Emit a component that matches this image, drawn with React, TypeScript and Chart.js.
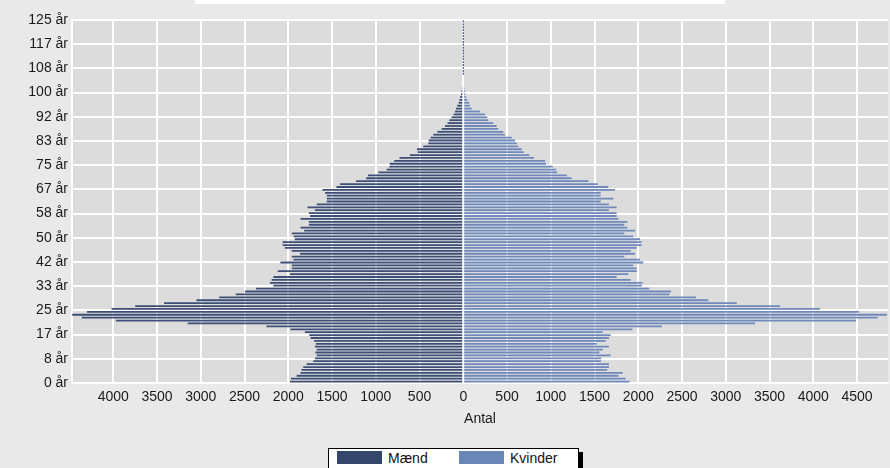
import React, { useEffect, useRef } from "react";
import { Chart, registerables } from "chart.js";

Chart.register(...registerables);

// Ages 0..124 (one bar per year of age)
const AGES: number[] = Array.from({ length: 125 }, (_, i) => i);

const MEN: number[] = [
  1980, 1970, 1905, 1860, 1850, 1830, 1790, 1715, 1695, 1675,
  1690, 1675, 1695, 1685, 1705, 1745, 1760, 1810, 1975, 2250,
  3150, 3970, 4360, 4470, 4300, 4020, 3750, 3420, 3050, 2790,
  2600, 2495, 2370, 2170, 2210, 2190, 2170, 1980, 2120, 1960,
  1960, 2090, 1940, 1960, 1865, 1960, 2040, 2065, 2065, 1925,
  1940, 1960, 1820, 1860, 1765, 1765, 1860, 1750, 1765, 1695,
  1780, 1675, 1560, 1560, 1560, 1580, 1610, 1450, 1410, 1225,
  1110, 1090, 970, 875, 845, 840, 790, 730, 610, 520,
  530, 457, 400, 395, 373, 343, 297, 247, 209, 180,
  160, 135, 110, 95, 83, 69, 53, 44, 36, 26,
  20, 15, 10, 6, 3, 2, 0, 0, 0, 0,
  0, 0, 0, 0, 0, 0, 0, 0, 0, 0,
  0, 0, 0, 0, 0,
];

const WOMEN: number[] = [
  1900, 1856, 1772, 1822, 1646, 1665, 1665, 1574, 1574, 1685,
  1555, 1593, 1665, 1525, 1628, 1665, 1685, 1593, 1932, 2268,
  3334, 4488, 4737, 4840, 4523, 4077, 3620, 3125, 2800, 2660,
  2355, 2374, 2126, 2040, 2050, 1913, 1753, 1886, 1982, 1982,
  1943, 2057, 2020, 1840, 1963, 1913, 1982, 2039, 2039, 2020,
  1943, 1840, 1963, 1875, 1840, 1875, 1772, 1753, 1753, 1665,
  1753, 1665, 1570, 1715, 1570, 1570, 1734, 1657, 1536, 1430,
  1239, 1182, 1075, 1060, 1022, 945, 934, 808, 755, 690,
  667, 629, 610, 591, 553, 476, 457, 400, 381, 343,
  286, 274, 248, 191, 96, 77, 69, 46, 31, 22,
  19, 15, 12, 8, 5, 3, 0, 0, 0, 0,
  0, 0, 0, 0, 0, 0, 0, 0, 0, 0,
  0, 0, 0, 0, 0,
];

const SERIES_LABELS = ["Mænd", "Kvinder"];
const X_TICKS: number[] = [
  -4000, -3500, -3000, -2500, -2000, -1500, -1000, -500, 0,
  500, 1000, 1500, 2000, 2500, 3000, 3500, 4000, 4500,
];
const X_MIN = -4472;
const X_MAX = 4854;
const Y_TICK_LABELS: string[] = [
  "0 år", "8 år", "17 år", "25 år", "33 år", "42 år", "50 år", "58 år",
  "67 år", "75 år", "83 år", "92 år", "100 år", "108 år", "117 år", "125 år",
];
const Y_MAX = 125;
const X_TITLE = "Antal";

const MEN_COLOR = "#34466c";
const WOMEN_COLOR = "#6a86b7";
const MEN_BAR = "#3d4f76";
const WOMEN_BAR = "#7089bb";
const PAGE_BG = "#e9e9e9";
const PLOT_BG = "#dcdcdc";
const FONT = "'Liberation Sans', Arial, sans-serif";

const plotBg = {
  id: "plotBg",
  beforeDraw(chart: any) {
    const { ctx, chartArea } = chart;
    if (!chartArea) return;
    ctx.save();
    ctx.fillStyle = PLOT_BG;
    ctx.fillRect(chartArea.left, chartArea.top, chartArea.right - chartArea.left, chartArea.bottom - chartArea.top);
    ctx.restore();
  },
};

function yTickValue(i: number) {
  return (i * Y_MAX) / (Y_TICK_LABELS.length - 1);
}

export default function App() {
  const ref = useRef<HTMLCanvasElement | null>(null);

  useEffect(() => {
    if (!ref.current) return;
    const tickFont = { family: FONT, size: 14 };
    const chart = new Chart(ref.current, {
      type: "bar",
      data: {
        datasets: [
          {
            label: SERIES_LABELS[0],
            data: AGES.map((a, i) => ({ x: -MEN[i], y: a + 0.5 })),
            backgroundColor: MEN_BAR,
            borderWidth: 0,
            minBarLength: 1,
            grouped: false,
          } as any,
          {
            label: SERIES_LABELS[1],
            data: AGES.map((a, i) => ({ x: WOMEN[i], y: a + 0.5 })),
            backgroundColor: WOMEN_BAR,
            borderWidth: 0,
            minBarLength: 1,
            grouped: false,
          } as any,
        ],
      },
      options: {
        indexAxis: "y",
        animation: false,
        responsive: false,
        maintainAspectRatio: false,
        categoryPercentage: 1,
        barPercentage: 0.62,
        layout: { padding: { left: 0, right: 2, top: 20, bottom: 7 } },
        plugins: {
          legend: { display: false },
          tooltip: { enabled: false },
          title: { display: false },
        },
        scales: {
          x: {
            type: "linear",
            min: X_MIN,
            max: X_MAX,
            offset: false,
            afterBuildTicks: (s: any) => {
              s.ticks = X_TICKS.map((v) => ({ value: v }));
            },
            afterFit: (s: any) => {
              s.height = 50;
            },
            ticks: {
              autoSkip: false,
              maxRotation: 0,
              padding: 6,
              color: "#1a1a1a",
              font: tickFont,
              callback: (v: any) => String(Math.abs(Number(v))),
            },
            grid: { color: "#ffffff", lineWidth: 2, drawTicks: false, offset: false },
            border: { display: true, color: "#ffffff", width: 2 },
            title: {
              display: true,
              text: X_TITLE,
              color: "#1a1a1a",
              font: tickFont,
              padding: { top: 2, bottom: 5 },
            },
          },
          xg: {
            type: "linear",
            axis: "x",
            position: "bottom",
            min: X_MIN,
            max: X_MAX,
            offset: false,
            z: 1,
            afterBuildTicks: (s: any) => {
              s.ticks = X_TICKS.map((v) => ({ value: v }));
            },
            afterFit: (s: any) => {
              s.height = 0;
            },
            ticks: { display: false },
            grid: { color: "rgba(255,255,255,0.3)", lineWidth: 2, drawTicks: false, offset: false },
            border: { display: false },
          },
          y: {
            type: "linear",
            min: 0,
            max: Y_MAX,
            offset: false,
            afterBuildTicks: (s: any) => {
              s.ticks = Y_TICK_LABELS.map((_, i) => ({ value: yTickValue(i) }));
            },
            afterFit: (s: any) => {
              s.width = 72;
            },
            ticks: {
              autoSkip: false,
              padding: 4,
              color: "#1a1a1a",
              font: tickFont,
              callback: (_v: any, i: number) => Y_TICK_LABELS[i],
            },
            grid: { color: "#ffffff", lineWidth: 2, drawTicks: false, offset: false },
            border: { display: true, color: "#ffffff", width: 2 },
          },
        } as any,
      },
      plugins: [plotBg],
    });
    return () => chart.destroy();
  }, []);

  const swatch = (left: number, color: string) => (
    <span
      style={{
        position: "absolute",
        left,
        top: 2,
        width: 45,
        height: 13,
        background: color,
      }}
    />
  );
  const label = (left: number, text: string) => (
    <span
      style={{
        position: "absolute",
        left,
        top: 0,
        fontFamily: FONT,
        fontSize: 14,
        lineHeight: "18px",
        color: "#111",
      }}
    >
      {text}
    </span>
  );

  return (
    <div
      style={{
        position: "fixed",
        left: 0,
        top: 0,
        width: 890,
        height: 468,
        overflow: "hidden",
        background: PAGE_BG,
      }}
    >
      <div style={{ position: "absolute", left: 195, top: 0, width: 530, height: 4, background: "#ffffff" }} />
      <canvas ref={ref} width={890} height={440} style={{ position: "absolute", left: 0, top: 0, width: 890, height: 440 }} />
      <div
        style={{
          position: "absolute",
          left: 328,
          top: 448,
          width: 249,
          height: 30,
          background: "#ffffff",
          border: "1px solid #000",
          boxShadow: "4px 4px 0 #000",
        }}
      >
        {swatch(8, MEN_COLOR)}
        {label(59, SERIES_LABELS[0])}
        {swatch(130, WOMEN_COLOR)}
        {label(181, SERIES_LABELS[1])}
      </div>
    </div>
  );
}
